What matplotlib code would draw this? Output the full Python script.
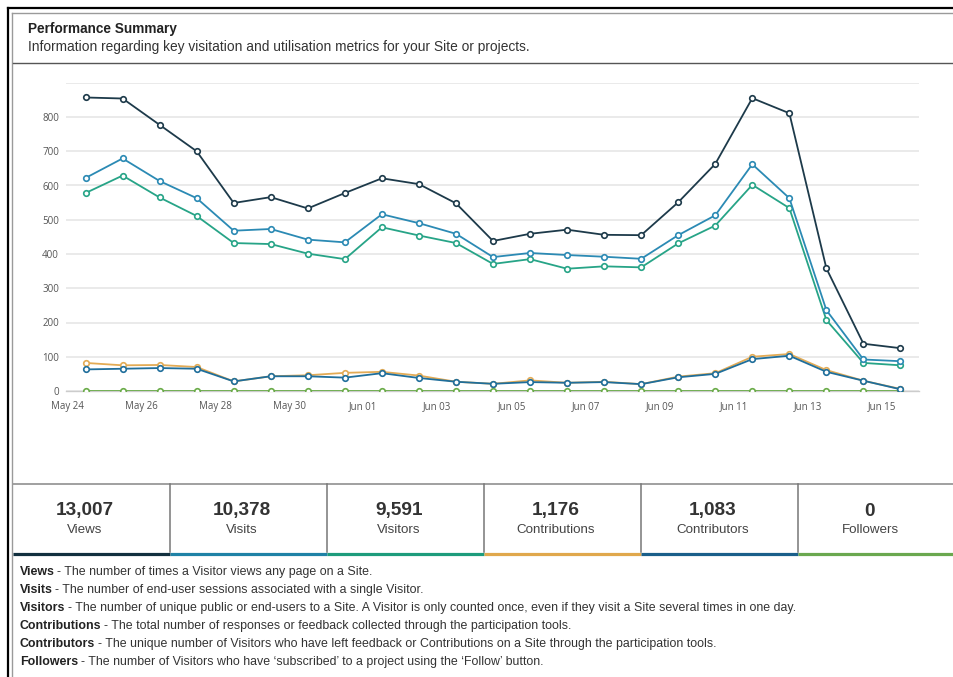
'''
performance summary dashboard - line chart of daily metrics plus totals strip
'''

import pandas as pd
import matplotlib
matplotlib.use('Agg')
import matplotlib.pyplot as plt
import matplotlib.dates as mdates
from matplotlib.lines import Line2D

# daily values, May 24 - Jun 15
days = pd.date_range('2021-05-24 12:00', periods=23, freq='D')

views = [857, 854, 777, 700, 549, 566, 533, 578, 621, 604, 548, 438,
         459, 471, 456, 455, 551, 663, 855, 811, 358, 138, 125]
visits = [622, 679, 613, 563, 468, 473, 442, 434, 516, 490, 459, 391,
          403, 397, 392, 386, 455, 513, 662, 563, 236, 92, 87]
visitors = [578, 629, 565, 511, 432, 429, 401, 385, 478, 454, 432, 371,
            385, 357, 364, 361, 431, 483, 602, 534, 207, 82, 75]
contributions = [82, 75, 76, 70, 28, 43, 46, 53, 56, 45, 27, 21,
                 31, 24, 27, 20, 42, 52, 100, 108, 61, 30, 6]
contributors = [63, 65, 67, 65, 28, 43, 43, 39, 52, 38, 27, 21,
                26, 24, 26, 20, 40, 50, 93, 103, 56, 30, 5]
followers = [0] * 23

metric_names = ['Views', 'Visits', 'Visitors', 'Contributions', 'Contributors', 'Followers']
metric_totals = ['13,007', '10,378', '9,591', '1,176', '1,083', '0']
metric_notes = [
    'The number of times a Visitor views any page on a Site.',
    'The number of end-user sessions associated with a single Visitor.',
    'The number of unique public or end-users to a Site. A Visitor is only counted once, even if they visit a Site several times in one day.',
    'The total number of responses or feedback collected through the participation tools.',
    'The unique number of Visitors who have left feedback or Contributions on a Site through the participation tools.',
    'The number of Visitors who have \u2018subscribed\u2019 to a project using the \u2018Follow\u2019 button.',
]

line_cols = {'Views': '#1d3a4a', 'Visits': '#2b8ab4', 'Visitors': '#27a487',
             'Contributions': '#e3ab55', 'Contributors': '#1f6e9b', 'Followers': '#6aab48'}
bar_cols = ['#12303f', '#1f82a6', '#1d9c7c', '#e0a84c', '#1a5f8a', '#6aa84f']

W, H = 954, 677
fig = plt.figure(figsize=(W / 100, H / 100), dpi=100)
fig.patch.set_facecolor('white')

# background axes in pixel coords for the frame and text
bg = fig.add_axes([0, 0, 1, 1])
bg.set_xlim(0, W)
bg.set_ylim(H, 0)
bg.axis('off')

# outer frame
bg.add_line(Line2D([8, 8], [8, H], color='black', lw=1.6))
bg.add_line(Line2D([8, W], [8, 8], color='black', lw=1.6))
bg.add_line(Line2D([12.5, 12.5], [12.5, H], color='#9a9a9a', lw=1.0))
bg.add_line(Line2D([12.5, W], [12.5, 12.5], color='#9a9a9a', lw=1.0))
bg.add_line(Line2D([13, W], [62.5, 62.5], color='#555555', lw=1.0))

sans = ['Liberation Sans', 'DejaVu Sans']
bg.text(28, 29.5, 'Performance Summary', fontsize=9.8, fontweight='bold',
        color='#222222', family=sans, va='center')
bg.text(28, 47, 'Information regarding key visitation and utilisation metrics for your Site or projects.',
        fontsize=9.95, color='#333333', family=sans, va='center')

# totals strip
bg.add_line(Line2D([13, W], [483.5, 483.5], color='#999999', lw=1.3))
for i in range(6):
    x0 = 13 if i == 0 else 13 + 157 * i
    x1 = 13 + 157 * (i + 1) if i < 5 else W
    bg.add_line(Line2D([x0, x1], [553.5, 553.5], color=bar_cols[i], lw=2.3,
                       solid_capstyle='butt'))
    if i > 0:
        bg.add_line(Line2D([x0, x0], [483.5, 552], color='#777777', lw=1.1))
    cx = 85 + 157 * i
    bg.text(cx, 511, metric_totals[i], fontsize=13.7, fontweight='bold',
            color='#333333', family=sans, ha='center', va='center')
    bg.text(cx, 530, metric_names[i], fontsize=9.6, color='#444444',
            family=sans, ha='center', va='center')

# definitions, bold term then plain text
renderer = fig.canvas.get_renderer()
for i, (name, note) in enumerate(zip(metric_names, metric_notes)):
    y = 572 + 18 * i
    t = bg.text(20, y, name, fontsize=8.9, fontweight='bold', color='#222222',
                family=sans, va='center')
    bb = t.get_window_extent(renderer=renderer)
    bg.text(bb.x1 + 2.5, y, '- ' + note, fontsize=8.9, color='#333333',
            family=sans, va='center')

# line chart
left, right, y_zero, y_top = 66, 919, 391, 82.75
ax = fig.add_axes([left / W, (H - y_zero) / H, (right - left) / W, (y_zero - y_top) / H])
ax.set_facecolor('none')

series = [('Followers', followers), ('Contributions', contributions),
          ('Contributors', contributors), ('Visitors', visitors),
          ('Visits', visits), ('Views', views)]
for name, vals in series:
    ax.plot(days, vals, color=line_cols[name], lw=1.3, marker='o', ms=4,
            mfc='white', mec=line_cols[name], mew=1.2, zorder=3)

ax.set_ylim(0, 900)
ax.set_yticks([0, 100, 200, 300, 400, 500, 600, 700, 800, 900])
ax.set_yticklabels(['0', '100', '200', '300', '400', '500', '600', '700', '800', ''])
ax.set_xlim(pd.Timestamp('2021-05-23 23:20'), pd.Timestamp('2021-06-16'))
ax.set_xticks(pd.date_range('2021-05-24', '2021-06-15', freq='2D'))
ax.xaxis.set_major_formatter(mdates.DateFormatter('%b %d'))

ax.grid(axis='y', color='#e6e6e6', lw=1.2)
ax.set_axisbelow(True)
for s in ['top', 'right', 'left']:
    ax.spines[s].set_visible(False)
ax.spines['bottom'].set_color('#cccccc')
ax.spines['bottom'].set_linewidth(1.0)
ax.tick_params(length=0, labelsize=7, labelcolor='#555555')
ax.tick_params(axis='x', pad=7)
ax.tick_params(axis='y', pad=5)
for lab in ax.get_xticklabels() + ax.get_yticklabels():
    lab.set_family(['Open Sans', 'DejaVu Sans'])

fig.savefig('out.png', dpi=100)
